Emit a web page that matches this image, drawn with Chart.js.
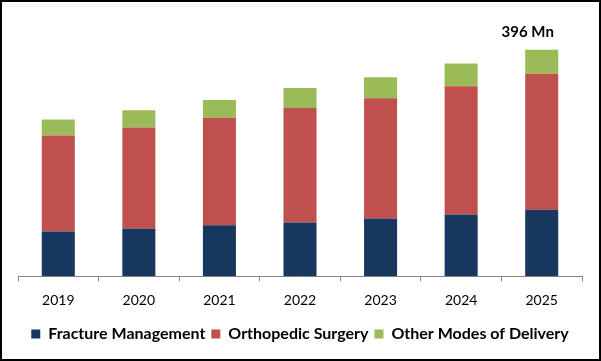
<!DOCTYPE html>
<html>
<head>
<meta charset="utf-8">
<script src="https://cdn.jsdelivr.net/npm/chart.js@4.4.0/dist/chart.umd.min.js"></script>
<style>
html,body{margin:0;padding:0;background:#fff;}
#wrap{width:601px;height:361px;position:relative;}
</style>
</head>
<body>
<div id="wrap"><canvas id="c" width="601" height="361"></canvas></div>
<script>
const categories = ['2019','2020','2021','2022','2023','2024','2025'];
const fractureManagement = [78, 83, 89, 94, 101, 108, 116];
const orthopedicSurgery = [168, 177, 188, 200, 210, 224, 238];
const otherModes = [28, 30, 31, 35, 37, 40, 42];
const seriesNames = ['Fracture Management','Orthopedic Surgery','Other Modes of Delivery'];
const totalLabel = '396 Mn';

const borderPlugin = {
  id: 'frame',
  afterDraw(chart) {
    const ctx = chart.ctx;
    ctx.save();
    ctx.strokeStyle = '#000';
    ctx.lineWidth = 2;
    ctx.strokeRect(1, 1, chart.width - 2, chart.height - 2);
    ctx.restore();
  }
};
const totalPlugin = {
  id: 'total',
  afterDatasetsDraw(chart) {
    const meta = chart.getDatasetMeta(2);
    const el = meta.data[meta.data.length - 1];
    const ctx = chart.ctx;
    ctx.save();
    ctx.font = 'bold 15px Lato';
    ctx.fillStyle = '#000';
    ctx.textAlign = 'center';
    ctx.textBaseline = 'middle';
    ctx.fillText(totalLabel, el.x - 14, el.y - 18);
    ctx.restore();
  }
};

new Chart(document.getElementById('c'), {
  type: 'bar',
  data: {
    labels: categories,
    datasets: [
      {label: seriesNames[0], data: fractureManagement, backgroundColor: '#17375E', borderWidth: 0},
      {label: seriesNames[1], data: orthopedicSurgery, backgroundColor: '#C0504D', borderWidth: 0},
      {label: seriesNames[2], data: otherModes, backgroundColor: '#9BBB59', borderWidth: 0}
    ]
  },
  options: {
    responsive: false,
    animation: false,
    devicePixelRatio: 1,
    layout: {padding: {left: 18, right: 19, top: 20, bottom: 9}},
    datasets: {bar: {categoryPercentage: 1, barPercentage: 0.41}},
    scales: {
      x: {
        stacked: true,
        grid: {offset: true, drawOnChartArea: false, drawTicks: true, tickLength: 5, color: '#868686', lineWidth: 1},
        border: {display: true, color: '#868686', width: 1},
        ticks: {color: '#000', font: {family: 'Lato', size: 14}, padding: 11}
      },
      y: {stacked: true, display: false, min: 0, max: 448}
    },
    plugins: {
      legend: {
        position: 'bottom',
        labels: {boxWidth: 9, boxHeight: 9, color: '#000', font: {family: 'Lato', size: 16, weight: 'bold'}, padding: 6}
      },
      tooltip: {enabled: false}
    }
  },
  plugins: [borderPlugin, totalPlugin]
});
</script>
</body>
</html>
